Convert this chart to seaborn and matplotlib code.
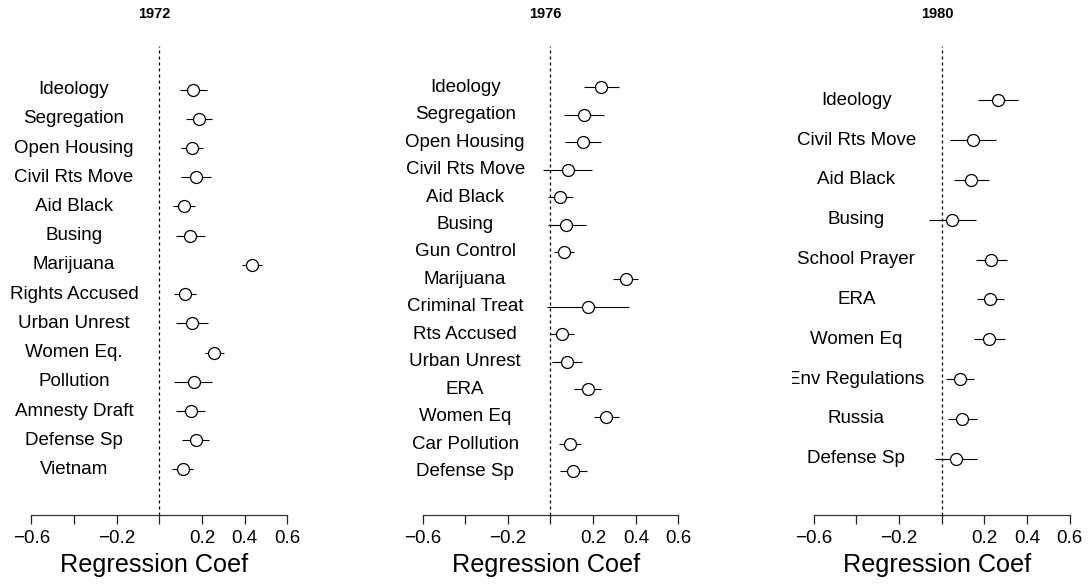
import matplotlib
matplotlib.use("Agg")
import matplotlib.pyplot as plt
import seaborn as sns
import pandas as pd

# Coefficient estimates and interval bounds per survey year
labels_1972 = ["Ideology", "Segregation", "Open Housing", "Civil Rts Move", "Aid Black",
               "Busing", "Marijuana", "Rights Accused", "Urban Unrest", "Women Eq.",
               "Pollution", "Amnesty Draft", "Defense Sp", "Vietnam"]
coef_1972 = [0.159, 0.186, 0.152, 0.172, 0.116, 0.145, 0.435, 0.119, 0.153, 0.258,
             0.161, 0.147, 0.172, 0.110]
lo_1972 = [0.097, 0.125, 0.100, 0.100, 0.066, 0.078, 0.389, 0.069, 0.077, 0.214,
           0.070, 0.078, 0.108, 0.061]
hi_1972 = [0.225, 0.248, 0.206, 0.241, 0.167, 0.214, 0.480, 0.170, 0.230, 0.302,
           0.246, 0.216, 0.233, 0.159]

labels_1976 = ["Ideology", "Segregation", "Open Housing", "Civil Rts Move", "Aid Black",
               "Busing", "Gun Control", "Marijuana", "Criminal Treat", "Rts Accused",
               "Urban Unrest", "ERA", "Women Eq", "Car Pollution", "Defense Sp"]
coef_1976 = [0.236, 0.155, 0.152, 0.082, 0.045, 0.075, 0.063, 0.353, 0.177, 0.055,
             0.077, 0.177, 0.262, 0.092, 0.105]
lo_1976 = [0.155, 0.064, 0.066, -0.033, -0.014, -0.014, 0.016, 0.295, -0.015, -0.001,
           0.008, 0.112, 0.205, 0.040, 0.044]
hi_1976 = [0.320, 0.250, 0.239, 0.195, 0.106, 0.167, 0.112, 0.410, 0.367, 0.112,
           0.147, 0.239, 0.320, 0.142, 0.169]

labels_1980 = ["Ideology", "Civil Rts Move", "Aid Black", "Busing", "School Prayer",
               "ERA", "Women Eq", "Env Regulations", "Russia", "Defense Sp"]
coef_1980 = [0.264, 0.146, 0.138, 0.050, 0.231, 0.227, 0.224, 0.087, 0.095, 0.067]
lo_1980 = [0.169, 0.039, 0.056, -0.060, 0.161, 0.164, 0.153, 0.022, 0.028, -0.030]
hi_1980 = [0.360, 0.256, 0.222, 0.162, 0.305, 0.291, 0.299, 0.153, 0.164, 0.166]

years = ["1972", "1976", "1980"]
tick_values = [-0.6, -0.4, -0.2, 0.0, 0.2, 0.4, 0.6]
tick_labels = ["\u22120.6", "", "\u22120.2", "", "0.2", "0.4", "0.6"]

sns.set_style("white")
plt.rcParams["font.family"] = ["Liberation Sans", "DejaVu Sans"]
plt.rcParams["text.color"] = "black"
plt.rcParams["axes.labelcolor"] = "black"
plt.rcParams["xtick.color"] = "black"

W, H = 1090, 584
fig = plt.figure(figsize=(W / 100, H / 100), dpi=100)

panels = [
    (labels_1972, coef_1972, lo_1972, hi_1972, (-0.54, 15.49)),
    (labels_1976, coef_1976, lo_1976, hi_1976, (-0.57, 16.51)),
    (labels_1980, coef_1980, lo_1980, hi_1980, (-0.40, 11.36)),
]

for i, (year, (labs, coef, lo, hi, ylim)) in enumerate(zip(years, panels)):
    left_px = 10 + 391.2 * i
    ax = fig.add_axes([left_px / W, (H - 514.5) / H, 289 / W, 468.5 / H])
    n = len(labs)
    df = pd.DataFrame({"item": labs, "coef": coef, "lo": lo, "hi": hi,
                       "pos": list(range(n, 0, -1))})

    ax.axvline(0, color="black", lw=0.9, dashes=(2.4, 2.4), zorder=1)
    ax.hlines(df["pos"], df["lo"], df["hi"], color="black", lw=0.8, zorder=2)
    sns.scatterplot(data=df, x="coef", y="pos", ax=ax, s=74, marker="o",
                    facecolor="white", edgecolor="black", linewidth=0.9, zorder=3,
                    legend=False)
    for _, row in df.iterrows():
        ax.text(-0.40, row["pos"], row["item"], ha="center", va="center",
                fontsize=13.5, color="black", clip_on=True)

    ax.set_xlim(-0.70, 0.655)
    ax.set_ylim(*ylim)
    ax.set_yticks([])
    ax.set_ylabel("")
    ax.set_xticks(tick_values)
    ax.set_xticklabels(tick_labels, fontsize=13.5, color="black")
    ax.tick_params(axis="x", direction="out", length=6.5, width=0.9, color="#222222",
                   pad=5, bottom=True)
    for side in ["top", "right", "left"]:
        ax.spines[side].set_visible(False)
    ax.spines["bottom"].set_bounds(-0.6, 0.6)
    ax.spines["bottom"].set_color("#333333")
    ax.spines["bottom"].set_linewidth(0.9)
    ax.set_xlabel("Regression Coef", fontsize=18.2, labelpad=4, color="black")
    ax.set_title(year, fontsize=10.5, fontweight="bold", pad=20, color="black")

fig.savefig("out.png", dpi=100)
